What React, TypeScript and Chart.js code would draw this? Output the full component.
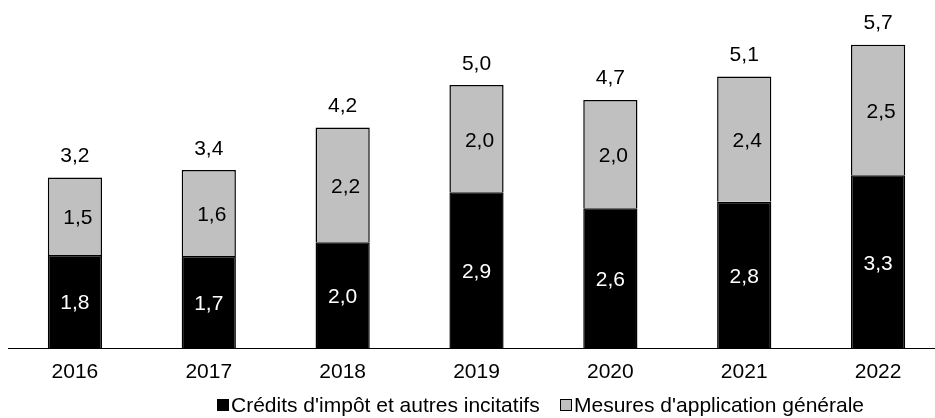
import React, { useEffect, useRef } from 'react';
import { Chart, registerables } from 'chart.js';

Chart.register(...registerables);

const years = ['2016', '2017', '2018', '2019', '2020', '2021', '2022'];
const credits = [1.76, 1.74, 2.0, 2.94, 2.64, 2.76, 3.26];
const general = [1.46, 1.62, 2.16, 2.02, 2.04, 2.36, 2.46];
const totals = [3.2, 3.4, 4.2, 5.0, 4.7, 5.1, 5.7];
const seriesNames = ["Crédits d'impôt et autres incitatifs", "Mesures d'application générale"];
const seriesColors = ['#000000', '#c0c0c0'];

const FONT = '"Liberation Sans", Arial, Helvetica, sans-serif';
const FONT_SIZE = 21;
const fmt = (v: number) => v.toFixed(1).replace('.', ',');

const valueLabels = {
  id: 'valueLabels',
  afterDatasetsDraw(chart: any) {
    const ctx = chart.ctx;
    ctx.save();
    ctx.font = `${FONT_SIZE}px ${FONT}`;
    ctx.textAlign = 'center';
    chart.data.datasets.forEach((ds: any, di: number) => {
      const meta = chart.getDatasetMeta(di);
      meta.data.forEach((bar: any, i: number) => {
        const { x, y, base } = bar.getProps(['x', 'y', 'base'], true);
        ctx.fillStyle = di === 0 ? '#ffffff' : '#000000';
        ctx.textBaseline = 'middle';
        ctx.fillText(fmt(ds.data[i]), x + (di === 0 ? 0 : 3), (y + base) / 2 + 2);
      });
    });
    const topMeta = chart.getDatasetMeta(chart.data.datasets.length - 1);
    topMeta.data.forEach((bar: any, i: number) => {
      const { x, y } = bar.getProps(['x', 'y'], true);
      ctx.fillStyle = '#000000';
      ctx.textBaseline = 'alphabetic';
      ctx.fillText(fmt(totals[i]), x, y - 15.5);
    });
    ctx.restore();
  },
};

const legendStarts = [217, 560];

const bottomLegend = {
  id: 'bottomLegend',
  afterDraw(chart: any) {
    const ctx = chart.ctx;
    ctx.save();
    ctx.font = `${FONT_SIZE}px ${FONT}`;
    ctx.textAlign = 'left';
    ctx.textBaseline = 'alphabetic';
    const baseline = chart.height - 6;
    const box = 12;
    const gap = 2;
    seriesNames.forEach((name, i) => {
      const x = legendStarts[i];
      const by = baseline - 13;
      ctx.fillStyle = seriesColors[i];
      ctx.fillRect(x, by, box, box);
      ctx.strokeStyle = '#000000';
      ctx.lineWidth = 1;
      ctx.strokeRect(x + 0.5, by + 0.5, box - 1, box - 1);
      ctx.fillStyle = '#000000';
      ctx.fillText(name, x + box + gap, baseline);
    });
    ctx.restore();
  },
};

export default function App() {
  const ref = useRef<HTMLCanvasElement | null>(null);

  useEffect(() => {
    if (!ref.current) return;
    const chart = new Chart(ref.current, {
      type: 'bar',
      data: {
        labels: years,
        datasets: [
          {
            label: seriesNames[0],
            data: credits,
            backgroundColor: seriesColors[0],
            borderColor: '#000000',
            borderWidth: 1.5,
          },
          {
            label: seriesNames[1],
            data: general,
            backgroundColor: seriesColors[1],
            borderColor: '#000000',
            borderWidth: 1.5,
          },
        ],
      },
      options: {
        responsive: false,
        animation: false,
        layout: { padding: { left: 8, right: 5, top: 3.4, bottom: 21.5 } },
        datasets: { bar: { categoryPercentage: 1, barPercentage: 0.405 } } as any,
        plugins: {
          legend: { display: false },
          tooltip: { enabled: false },
        },
        scales: {
          x: {
            stacked: true,
            grid: { display: false, drawTicks: false },
            border: { display: true, color: '#000000', width: 1 },
            ticks: { color: '#000000', font: { family: FONT, size: FONT_SIZE }, padding: 11.5 },
          },
          y: {
            stacked: true,
            display: false,
            min: 0,
            max: 6.5,
          },
        },
      },
      plugins: [valueLabels, bottomLegend],
    });
    return () => chart.destroy();
  }, []);

  return (
    <div
      style={{
        position: 'fixed',
        left: 0,
        top: 0,
        width: 935,
        height: 418,
        overflow: 'hidden',
        background: '#ffffff',
      }}
    >
      <canvas ref={ref} width={950} height={418} style={{ display: 'block' }} />
    </div>
  );
}
